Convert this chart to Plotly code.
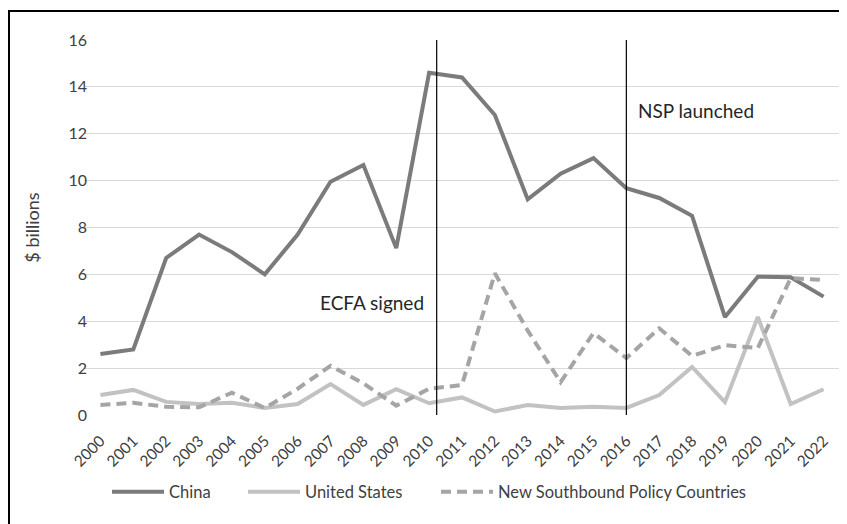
import plotly.graph_objects as go

# Data ($ billions)
years = [str(y) for y in range(2000, 2023)]
china = [2.6, 2.8, 6.7, 7.7, 6.95, 6.0, 7.7, 9.95, 10.67, 7.12, 14.6, 14.4,
         12.8, 9.2, 10.3, 10.96, 9.68, 9.26, 8.5, 4.18, 5.9, 5.88, 5.05]
united_states = [0.85, 1.07, 0.56, 0.47, 0.52, 0.3, 0.47, 1.32, 0.43, 1.1, 0.5,
                 0.75, 0.15, 0.43, 0.3, 0.35, 0.3, 0.85, 2.05, 0.55, 4.18, 0.47, 1.1]
nsp = [0.43, 0.52, 0.35, 0.33, 0.95, 0.3, 1.12, 2.1, 1.35, 0.4, 1.12, 1.28,
       6.05, 3.6, 1.4, 3.5, 2.43, 3.7, 2.52, 2.98, 2.86, 5.84, 5.76]
y_ticks = [0, 2, 4, 6, 8, 10, 12, 14, 16]

# event markers (x in category units)
ecfa_x = 10.23
nsp_x = 16.0

font_family = "Lato, 'Open Sans', sans-serif"
x = list(range(len(years)))

# page has an 8px body margin, so the figure is 8px smaller and shifted
W, H = 839, 516
ML, MR, MT, MB = 76, 7, 32, 109
pw, ph = W - ML - MR, H - MT - MB


def px(xp):  # page x pixel -> paper x
    return (xp - 8 - ML) / pw


def py(yp):  # page y pixel -> paper y
    return (H - MB - (yp - 8)) / ph


fig = go.Figure()
fig.add_trace(go.Scatter(x=x, y=china, name="China", mode="lines", legend="legend",
                         line=dict(color="#7b7b7b", width=4)))
fig.add_trace(go.Scatter(x=x, y=united_states, name="United States", mode="lines",
                         legend="legend2", line=dict(color="#c2c2c2", width=4)))
fig.add_trace(go.Scatter(x=x, y=nsp, name="New Southbound Policy Countries", mode="lines",
                         legend="legend3",
                         line=dict(color="#a5a5a5", width=4, dash="10px,6px")))

fig.add_shape(type="line", xref="x", yref="y", x0=ecfa_x, x1=ecfa_x, y0=0, y1=16,
              line=dict(color="black", width=1.2))
fig.add_shape(type="line", xref="x", yref="y", x0=nsp_x, x1=nsp_x, y0=0, y1=16.15,
              line=dict(color="black", width=1.2))

fig.add_annotation(x=ecfa_x - 0.33, y=4.82, text="ECFA signed", showarrow=False,
                   xanchor="right", font=dict(size=19, color="#262626"))
fig.add_annotation(x=nsp_x + 0.3, y=13.0, text="NSP launched", showarrow=False,
                   xanchor="left", font=dict(size=19, color="#262626"))

# outer frame (left and top edges visible)
fig.add_shape(type="rect", xref="paper", yref="paper",
              x0=px(9), x1=px(860), y0=py(560), y1=py(11),
              line=dict(color="black", width=2))

leg = dict(orientation="h", yanchor="middle", xanchor="left", y=py(492),
           font=dict(size=16.5, color="#404040"), itemwidth=52, bgcolor="rgba(0,0,0,0)")
fig.update_layout(
    width=W, height=H,
    margin=dict(l=ML, r=MR, t=MT, b=MB),
    paper_bgcolor="white", plot_bgcolor="white",
    font=dict(family=font_family, size=15, color="#404040"),
    showlegend=True,
    legend=dict(leg, x=px(107)),
    legend2=dict(leg, x=px(243)),
    legend3=dict(leg, x=px(436)),
    xaxis=dict(range=[-0.5, 22.5], tickvals=x, ticktext=years, tickangle=-45,
               showgrid=False, zeroline=False, showline=False, ticks="",
               tickfont=dict(size=15.5), ticklabelstandoff=13),
    yaxis=dict(range=[0, 16], tickvals=y_ticks, showgrid=True, gridcolor="#d9d9d9",
               gridwidth=1, zeroline=False, showline=False, ticks="",
               tickfont=dict(size=16), ticklabelstandoff=-4,
               title=dict(text="$ billions", font=dict(size=18), standoff=24)),
)

fig.write_html("out.html")
